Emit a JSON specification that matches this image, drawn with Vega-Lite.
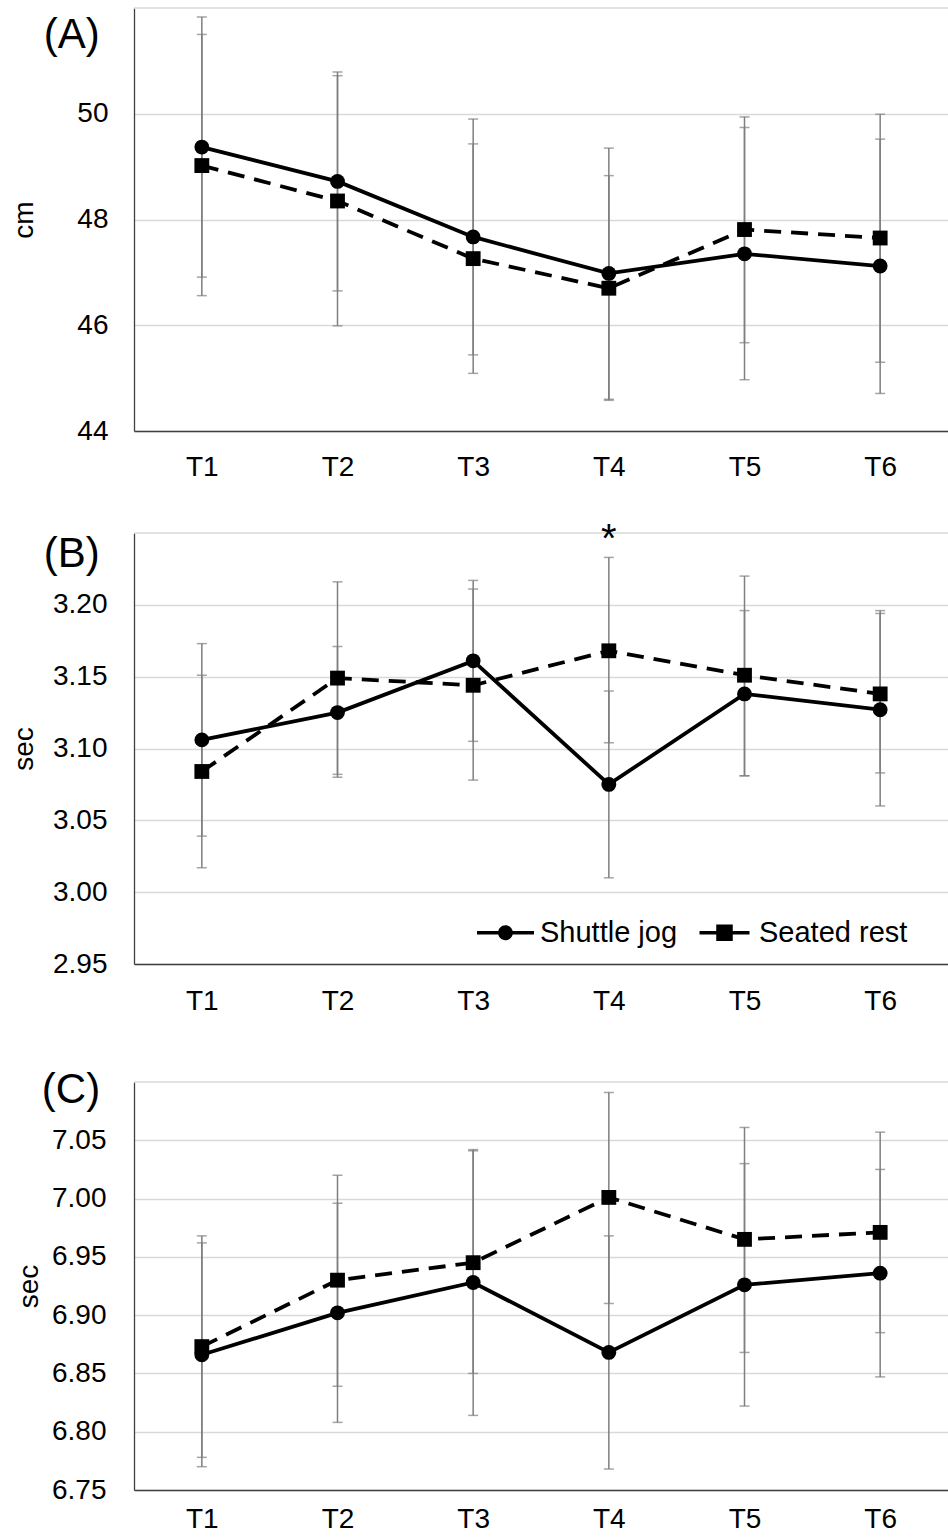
{
  "$schema": "https://vega.github.io/schema/vega-lite/v6.json",
  "padding": {"left": 10, "top": 7, "right": 0, "bottom": 0},
  "background": "white",
  "config": {
    "font": "Liberation Sans",
    "view": {"stroke": null},
    "axis": {"labelColor": "black", "titleColor": "black", "titleFontWeight": "normal"},
    "legend": {"orient": "none", "legendX": 343, "legendY": 896, "direction": "horizontal", "symbolSize": 3249, "labelFontSize": 29, "labelOffset": 6, "columnPadding": 18, "padding": 0, "labelColor": "black", "titleFontSize": 0}
  },
  "datasets": {
    "A": [
      {"time": "T1", "group": "Shuttle jog", "mean": 49.37, "lo": 46.91, "hi": 51.83},
      {"time": "T2", "group": "Shuttle jog", "mean": 48.72, "lo": 46.65, "hi": 50.79},
      {"time": "T3", "group": "Shuttle jog", "mean": 47.67, "lo": 45.44, "hi": 49.90},
      {"time": "T4", "group": "Shuttle jog", "mean": 46.98, "lo": 44.60, "hi": 49.35},
      {"time": "T5", "group": "Shuttle jog", "mean": 47.35, "lo": 44.97, "hi": 49.74},
      {"time": "T6", "group": "Shuttle jog", "mean": 47.12, "lo": 44.71, "hi": 49.52},
      {"time": "T1", "group": "Seated rest", "mean": 49.02, "lo": 46.56, "hi": 51.50},
      {"time": "T2", "group": "Seated rest", "mean": 48.35, "lo": 45.99, "hi": 50.72},
      {"time": "T3", "group": "Seated rest", "mean": 47.26, "lo": 45.09, "hi": 49.43},
      {"time": "T4", "group": "Seated rest", "mean": 46.70, "lo": 44.58, "hi": 48.83},
      {"time": "T5", "group": "Seated rest", "mean": 47.81, "lo": 45.67, "hi": 49.94},
      {"time": "T6", "group": "Seated rest", "mean": 47.65, "lo": 45.30, "hi": 49.99}
    ],
    "B": [
      {"time": "T1", "group": "Shuttle jog", "mean": 3.106, "lo": 3.039, "hi": 3.173},
      {"time": "T2", "group": "Shuttle jog", "mean": 3.125, "lo": 3.080, "hi": 3.171},
      {"time": "T3", "group": "Shuttle jog", "mean": 3.161, "lo": 3.105, "hi": 3.217},
      {"time": "T4", "group": "Shuttle jog", "mean": 3.075, "lo": 3.010, "hi": 3.140},
      {"time": "T5", "group": "Shuttle jog", "mean": 3.138, "lo": 3.081, "hi": 3.196},
      {"time": "T6", "group": "Shuttle jog", "mean": 3.127, "lo": 3.060, "hi": 3.194},
      {"time": "T1", "group": "Seated rest", "mean": 3.084, "lo": 3.017, "hi": 3.151},
      {"time": "T2", "group": "Seated rest", "mean": 3.149, "lo": 3.082, "hi": 3.216},
      {"time": "T3", "group": "Seated rest", "mean": 3.144, "lo": 3.078, "hi": 3.211},
      {"time": "T4", "group": "Seated rest", "mean": 3.168, "lo": 3.104, "hi": 3.233},
      {"time": "T5", "group": "Seated rest", "mean": 3.151, "lo": 3.081, "hi": 3.220},
      {"time": "T6", "group": "Seated rest", "mean": 3.138, "lo": 3.083, "hi": 3.196}
    ],
    "C": [
      {"time": "T1", "group": "Shuttle jog", "mean": 6.866, "lo": 6.770, "hi": 6.962},
      {"time": "T2", "group": "Shuttle jog", "mean": 6.902, "lo": 6.808, "hi": 6.996},
      {"time": "T3", "group": "Shuttle jog", "mean": 6.928, "lo": 6.814, "hi": 7.042},
      {"time": "T4", "group": "Shuttle jog", "mean": 6.868, "lo": 6.768, "hi": 6.968},
      {"time": "T5", "group": "Shuttle jog", "mean": 6.926, "lo": 6.822, "hi": 7.030},
      {"time": "T6", "group": "Shuttle jog", "mean": 6.936, "lo": 6.847, "hi": 7.025},
      {"time": "T1", "group": "Seated rest", "mean": 6.873, "lo": 6.778, "hi": 6.968},
      {"time": "T2", "group": "Seated rest", "mean": 6.930, "lo": 6.839, "hi": 7.020},
      {"time": "T3", "group": "Seated rest", "mean": 6.945, "lo": 6.850, "hi": 7.041},
      {"time": "T4", "group": "Seated rest", "mean": 7.001, "lo": 6.910, "hi": 7.091},
      {"time": "T5", "group": "Seated rest", "mean": 6.965, "lo": 6.868, "hi": 7.061},
      {"time": "T6", "group": "Seated rest", "mean": 6.971, "lo": 6.885, "hi": 7.057}
    ]
  },
  "vconcat": [
    {
      "spacing": 38,
      "vconcat": [
        {
          "width": 814,
          "height": 423,
          "layer": [
            {
              "data": {"values": [{"v": 52}]},
              "mark": {"type": "rule", "color": "#d9d9d9", "strokeWidth": 1.3},
              "encoding": {
                "y": {"field": "v", "type": "quantitative", "scale": {"domain": [44, 52], "nice": false, "zero": false},
                  "axis": {"title": "cm", "values": [44, 46, 48, 50], "grid": true, "gridColor": "#d9d9d9", "gridWidth": 1.3, "domainColor": "#404040", "domainWidth": 1.3, "ticks": false, "tickSize": 0, "labelPadding": 26, "labelFontSize": 28, "titleFontSize": 28, "titlePadding": 38}}
              }
            },
            {
              "data": {"name": "A"},
              "mark": {"type": "rule", "color": "#7f7f7f", "strokeWidth": 1.5},
              "encoding": {
                "x": {"field": "time", "type": "ordinal", "sort": ["T1", "T2", "T3", "T4", "T5", "T6"], "scale": {"type": "point", "padding": 0.5},
                  "axis": {"title": null, "labelAngle": 0, "labelFontSize": 28, "labelPadding": 22, "ticks": false, "tickSize": 0, "domainColor": "#404040", "domainWidth": 1.3, "grid": false}},
                "y": {"field": "lo", "type": "quantitative"},
                "y2": {"field": "hi"}
              }
            },
            {
              "data": {"name": "A"},
              "mark": {"type": "tick", "color": "#7f7f7f", "thickness": 1.5, "size": 10},
              "encoding": {"x": {"field": "time", "type": "ordinal"}, "y": {"field": "lo", "type": "quantitative"}}
            },
            {
              "data": {"name": "A"},
              "mark": {"type": "tick", "color": "#7f7f7f", "thickness": 1.5, "size": 10},
              "encoding": {"x": {"field": "time", "type": "ordinal"}, "y": {"field": "hi", "type": "quantitative"}}
            },
            {
              "data": {"name": "A"},
              "transform": [{"filter": "datum.group === 'Shuttle jog'"}],
              "mark": {"type": "line", "color": "black", "strokeWidth": 3.8},
              "encoding": {"x": {"field": "time", "type": "ordinal"}, "y": {"field": "mean", "type": "quantitative"}}
            },
            {
              "data": {"name": "A"},
              "transform": [{"filter": "datum.group === 'Seated rest'"}],
              "mark": {"type": "line", "color": "black", "strokeWidth": 3.8, "strokeDash": [17, 10]},
              "encoding": {"x": {"field": "time", "type": "ordinal"}, "y": {"field": "mean", "type": "quantitative"}}
            },
            {
              "data": {"name": "A"},
              "transform": [{"filter": "datum.group === 'Shuttle jog'"}],
              "mark": {"type": "point", "shape": "circle", "filled": true, "color": "black", "opacity": 1, "size": 220},
              "encoding": {"x": {"field": "time", "type": "ordinal"}, "y": {"field": "mean", "type": "quantitative"}}
            },
            {
              "data": {"name": "A"},
              "transform": [{"filter": "datum.group === 'Seated rest'"}],
              "mark": {"type": "point", "shape": "square", "filled": true, "color": "black", "opacity": 1, "size": 220},
              "encoding": {"x": {"field": "time", "type": "ordinal"}, "y": {"field": "mean", "type": "quantitative"}}
            },
            {
              "data": {"values": [{"time": "T1", "v": 51.24, "label": "(A)"}]},
              "mark": {"type": "text", "fontSize": 42, "align": "left", "baseline": "alphabetic", "dx": -158, "color": "black"},
              "encoding": {
                "x": {"field": "time", "type": "ordinal"},
                "y": {"field": "v", "type": "quantitative"},
                "text": {"field": "label"}
              }
            }
          ]
        },
        {
          "width": 814,
          "height": 431,
          "layer": [
            {
              "data": {"values": [{"v": 3.25}]},
              "mark": {"type": "rule", "color": "#d9d9d9", "strokeWidth": 1.3},
              "encoding": {
                "y": {"field": "v", "type": "quantitative", "scale": {"domain": [2.95, 3.25], "nice": false, "zero": false},
                  "axis": {"title": "sec", "values": [2.95, 3.0, 3.05, 3.1, 3.15, 3.2], "format": ".2f", "grid": true, "gridColor": "#d9d9d9", "gridWidth": 1.3, "domainColor": "#404040", "domainWidth": 1.3, "ticks": false, "tickSize": 0, "labelPadding": 27, "labelFontSize": 28, "titleFontSize": 28, "titlePadding": 14}}
              }
            },
            {
              "data": {"name": "B"},
              "mark": {"type": "rule", "color": "#7f7f7f", "strokeWidth": 1.5},
              "encoding": {
                "x": {"field": "time", "type": "ordinal", "sort": ["T1", "T2", "T3", "T4", "T5", "T6"], "scale": {"type": "point", "padding": 0.5},
                  "axis": {"title": null, "labelAngle": 0, "labelFontSize": 28, "labelPadding": 23, "ticks": false, "tickSize": 0, "domainColor": "#404040", "domainWidth": 1.3, "grid": false}},
                "y": {"field": "lo", "type": "quantitative"},
                "y2": {"field": "hi"}
              }
            },
            {
              "data": {"name": "B"},
              "mark": {"type": "tick", "color": "#7f7f7f", "thickness": 1.5, "size": 10},
              "encoding": {"x": {"field": "time", "type": "ordinal"}, "y": {"field": "lo", "type": "quantitative"}}
            },
            {
              "data": {"name": "B"},
              "mark": {"type": "tick", "color": "#7f7f7f", "thickness": 1.5, "size": 10},
              "encoding": {"x": {"field": "time", "type": "ordinal"}, "y": {"field": "hi", "type": "quantitative"}}
            },
            {
              "data": {"name": "B"},
              "transform": [{"filter": "datum.group === 'Shuttle jog'"}],
              "mark": {"type": "line", "color": "black", "strokeWidth": 3.8},
              "encoding": {"x": {"field": "time", "type": "ordinal"}, "y": {"field": "mean", "type": "quantitative"}}
            },
            {
              "data": {"name": "B"},
              "transform": [{"filter": "datum.group === 'Seated rest'"}],
              "mark": {"type": "line", "color": "black", "strokeWidth": 3.8, "strokeDash": [17, 10]},
              "encoding": {"x": {"field": "time", "type": "ordinal"}, "y": {"field": "mean", "type": "quantitative"}}
            },
            {
              "data": {"name": "B"},
              "transform": [{"filter": "datum.group === 'Shuttle jog'"}],
              "mark": {"type": "point", "shape": "circle", "filled": true, "color": "black", "opacity": 1, "size": 220},
              "encoding": {"x": {"field": "time", "type": "ordinal"}, "y": {"field": "mean", "type": "quantitative"}}
            },
            {
              "data": {"name": "B"},
              "transform": [{"filter": "datum.group === 'Seated rest'"}],
              "mark": {"type": "point", "shape": "square", "filled": true, "color": "black", "opacity": 1, "size": 220},
              "encoding": {"x": {"field": "time", "type": "ordinal"}, "y": {"field": "mean", "type": "quantitative"}}
            },
            {
              "data": {"name": "B"},
              "mark": {"type": "point", "filled": true, "color": "black", "opacity": 0, "size": 10},
              "encoding": {
                "x": {"field": "time", "type": "ordinal"},
                "y": {"field": "mean", "type": "quantitative"},
                "shape": {"field": "group", "type": "nominal",
                  "scale": {"domain": ["Shuttle jog", "Seated rest"], "range": ["M-1,-0.06H1V0.06H-1Z M0.26,0A0.26,0.26 0 1,1 -0.26,0A0.26,0.26 0 1,1 0.26,0Z", "M-0.877,-0.06H0.877V0.06H-0.877Z M-0.29,-0.29H0.29V0.29H-0.29Z"]},
                  "legend": {"title": null, "symbolOpacity": 1, "symbolFillColor": "black", "symbolStrokeColor": "black", "symbolStrokeWidth": 0}}
              }
            },
            {
              "data": {"values": [{"time": "T4", "v": 3.237, "label": "*"}]},
              "mark": {"type": "text", "fontSize": 40, "baseline": "alphabetic", "color": "black"},
              "encoding": {
                "x": {"field": "time", "type": "ordinal"},
                "y": {"field": "v", "type": "quantitative"},
                "text": {"field": "label"}
              }
            },
            {
              "data": {"values": [{"time": "T1", "v": 3.226, "label": "(B)"}]},
              "mark": {"type": "text", "fontSize": 42, "align": "left", "baseline": "alphabetic", "dx": -158, "color": "black"},
              "encoding": {
                "x": {"field": "time", "type": "ordinal"},
                "y": {"field": "v", "type": "quantitative"},
                "text": {"field": "label"}
              }
            }
          ]
        }
      ]
    },
    {
      "width": 814,
      "height": 408,
      "layer": [
        {
          "data": {"values": [{"v": 7.1}]},
          "mark": {"type": "rule", "color": "#d9d9d9", "strokeWidth": 1.3},
          "encoding": {
            "y": {"field": "v", "type": "quantitative", "scale": {"domain": [6.75, 7.1], "nice": false, "zero": false},
              "axis": {"title": "sec", "values": [6.75, 6.8, 6.85, 6.9, 6.95, 7.0, 7.05], "format": ".2f", "grid": true, "gridColor": "#d9d9d9", "gridWidth": 1.3, "domainColor": "#404040", "domainWidth": 1.3, "ticks": false, "tickSize": 0, "labelPadding": 28, "labelFontSize": 28, "titleFontSize": 28, "titlePadding": 8}}
          }
        },
        {
          "data": {"name": "C"},
          "mark": {"type": "rule", "color": "#7f7f7f", "strokeWidth": 1.5},
          "encoding": {
            "x": {"field": "time", "type": "ordinal", "sort": ["T1", "T2", "T3", "T4", "T5", "T6"], "scale": {"type": "point", "padding": 0.5},
              "axis": {"title": null, "labelAngle": 0, "labelFontSize": 28, "labelPadding": 15, "ticks": false, "tickSize": 0, "domainColor": "#404040", "domainWidth": 1.3, "grid": false}},
            "y": {"field": "lo", "type": "quantitative"},
            "y2": {"field": "hi"}
          }
        },
        {
          "data": {"name": "C"},
          "mark": {"type": "tick", "color": "#7f7f7f", "thickness": 1.5, "size": 10},
          "encoding": {"x": {"field": "time", "type": "ordinal"}, "y": {"field": "lo", "type": "quantitative"}}
        },
        {
          "data": {"name": "C"},
          "mark": {"type": "tick", "color": "#7f7f7f", "thickness": 1.5, "size": 10},
          "encoding": {"x": {"field": "time", "type": "ordinal"}, "y": {"field": "hi", "type": "quantitative"}}
        },
        {
          "data": {"name": "C"},
          "transform": [{"filter": "datum.group === 'Shuttle jog'"}],
          "mark": {"type": "line", "color": "black", "strokeWidth": 3.8},
          "encoding": {"x": {"field": "time", "type": "ordinal"}, "y": {"field": "mean", "type": "quantitative"}}
        },
        {
          "data": {"name": "C"},
          "transform": [{"filter": "datum.group === 'Seated rest'"}],
          "mark": {"type": "line", "color": "black", "strokeWidth": 3.8, "strokeDash": [17, 10]},
          "encoding": {"x": {"field": "time", "type": "ordinal"}, "y": {"field": "mean", "type": "quantitative"}}
        },
        {
          "data": {"name": "C"},
          "transform": [{"filter": "datum.group === 'Shuttle jog'"}],
          "mark": {"type": "point", "shape": "circle", "filled": true, "color": "black", "opacity": 1, "size": 220},
          "encoding": {"x": {"field": "time", "type": "ordinal"}, "y": {"field": "mean", "type": "quantitative"}}
        },
        {
          "data": {"name": "C"},
          "transform": [{"filter": "datum.group === 'Seated rest'"}],
          "mark": {"type": "point", "shape": "square", "filled": true, "color": "black", "opacity": 1, "size": 220},
          "encoding": {"x": {"field": "time", "type": "ordinal"}, "y": {"field": "mean", "type": "quantitative"}}
        },
        {
          "data": {"values": [{"time": "T1", "v": 7.082, "label": "(C)"}]},
          "mark": {"type": "text", "fontSize": 42, "align": "left", "baseline": "alphabetic", "dx": -160, "color": "black"},
          "encoding": {
            "x": {"field": "time", "type": "ordinal"},
            "y": {"field": "v", "type": "quantitative"},
            "text": {"field": "label"}
          }
        }
      ]
    }
  ],
  "spacing": 53
}
